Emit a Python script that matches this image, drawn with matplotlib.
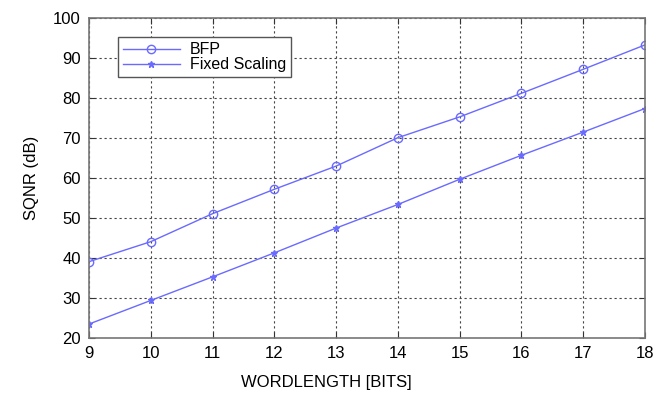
"""SQNR versus wordlength for BFP and fixed scaling."""

import matplotlib
matplotlib.use("Agg")
import matplotlib.pyplot as plt

plt.rcParams["font.family"] = ["Liberation Sans", "DejaVu Sans"]

wordlength = [9, 10, 11, 12, 13, 14, 15, 16, 17, 18]
sqnr_bfp = [39.1, 44.1, 51.1, 57.2, 63.0, 70.1, 75.3, 81.2, 87.2, 93.3]
sqnr_fixed = [23.5, 29.4, 35.3, 41.3, 47.5, 53.4, 59.7, 65.7, 71.5, 77.4]

line_color = "#6a6aff"

fig = plt.figure(figsize=(6.71, 3.94), dpi=100)
ax = fig.add_axes([0.1326, 0.142, 0.8286, 0.812])

ax.plot(wordlength, sqnr_bfp, color=line_color, lw=1.0, marker="o",
        ms=6, mfc="none", mec=line_color, mew=1.0, label="BFP")
ax.plot(wordlength, sqnr_fixed, color=line_color, lw=1.0, marker="*",
        ms=5, mfc=line_color, mec=line_color, label="Fixed Scaling")

ax.set_xlim(9, 18)
ax.set_ylim(20, 100)
ax.set_xticks(range(9, 19))
ax.set_yticks(range(20, 101, 10))
ax.tick_params(direction="in", top=True, right=True, length=4,
               labelsize=12, color="#333333", pad=6)
ax.grid(True, color="#444444", linestyle=(0, (2, 2.5)), linewidth=0.8)
for s in ax.spines.values():
    s.set_color("#777777")
    s.set_linewidth(1.2)

ax.set_xlabel("WORDLENGTH [BITS]", fontsize=12)
ax.xaxis.set_label_coords(0.426, -0.115)
ax.set_ylabel("SQNR (dB)", fontsize=12, labelpad=10)

leg = ax.legend(loc="upper left", bbox_to_anchor=(0.052, 0.94),
                fontsize=11.5, frameon=True, fancybox=False,
                handlelength=3.6, borderpad=0.3, labelspacing=0.0,
                borderaxespad=0, handletextpad=0.6)
leg.get_frame().set_edgecolor("#555555")
leg.get_frame().set_linewidth(1.0)
leg.get_frame().set_alpha(1)

fig.savefig("out.png", dpi=100)
